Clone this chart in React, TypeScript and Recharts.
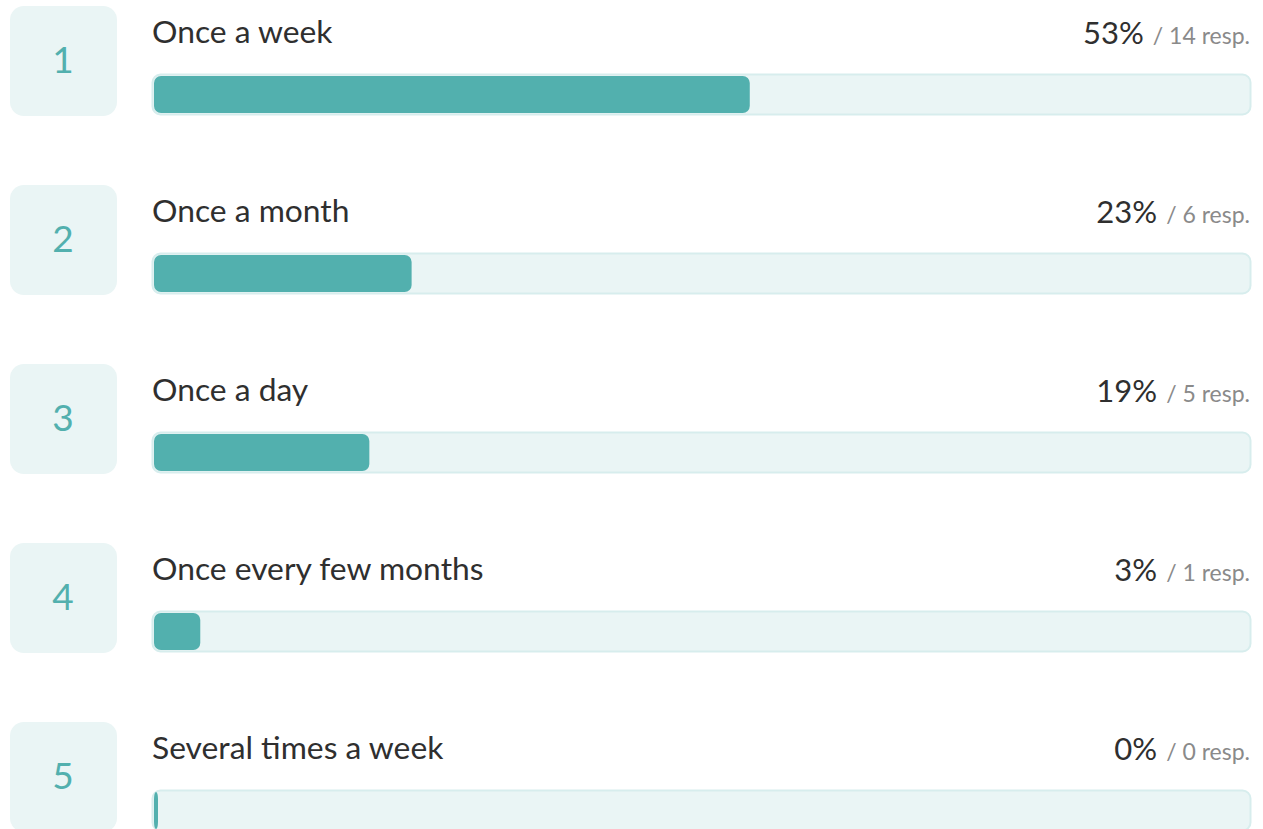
import React from 'react';
import { BarChart, Bar, XAxis, YAxis } from 'recharts';

const ranks = [1, 2, 3, 4, 5];
const labels = ['Once a week', 'Once a month', 'Once a day', 'Once every few months', 'Several times a week'];
const responses = [14, 6, 5, 1, 0];
const percents = [53, 23, 19, 3, 0];
const totalResponses = 26;

const TEAL = '#52b0ae';
const LIGHT = '#eaf5f5';
const FONT = '"Source Sans Pro", Lato, "Noto Sans", sans-serif';

const data = labels.map((label, i) => ({ label, rank: ranks[i], resp: responses[i], pct: percents[i] }));

const Track = (props: any) => {
  const { x, y, width, height, index } = props;
  const row = data[index];
  return (
    <g>
      <rect x={x - 142} y={y - 68} width={107} height={110} rx={14} fill={LIGHT} />
      <text x={x - 89} y={y - 1} textAnchor="middle" fontFamily={FONT} fontSize={37} fill={TEAL}>
        {row.rank}
      </text>
      <text x={x} y={y - 31} fontFamily={FONT} fontSize={31.8} fill="#2f2f2f">
        {row.label}
      </text>
      <text x={x + width - 1} y={y - 30} textAnchor="end" fontFamily={FONT}>
        <tspan fontSize={31} fill="#2f2f2f">{row.pct}%</tspan>
        <tspan fontSize={23} fill="#8a8a8a" dx={9}>/ {row.resp} resp.</tspan>
      </text>
      <rect x={x + 0.5} y={y + 0.5} width={width - 1} height={height - 1} rx={8} fill={LIGHT} stroke="#d7eded" strokeWidth={2} />
    </g>
  );
};

const Fill = (props: any) => {
  const { x, y, width, height } = props;
  return <rect x={x + 2} y={y + 2} width={Math.max(width, 0) + 4} height={height - 4} rx={7} fill={TEAL} />;
};

const App: React.FC = () => (
  <div style={{ position: 'absolute', left: 0, top: 0, width: 1263, height: 829, overflow: 'hidden', background: '#fff' }}>
    <BarChart
      width={1263}
      height={900}
      data={data}
      layout="vertical"
      margin={{ top: 5, right: 12, bottom: 0, left: 152 }}
      barCategoryGap={0}
    >
      <XAxis type="number" domain={[0, totalResponses]} hide />
      <YAxis type="category" dataKey="label" hide />
      <Bar dataKey="resp" barSize={41} background={Track} shape={Fill} isAnimationActive={false} />
    </BarChart>
  </div>
);

export default App;
